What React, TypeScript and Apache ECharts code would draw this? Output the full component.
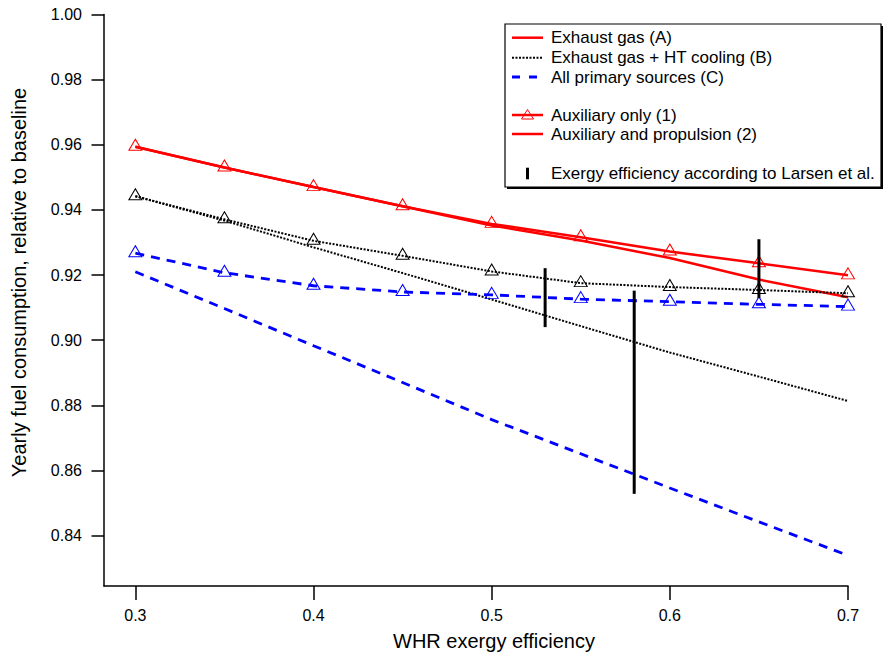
import React, { useEffect, useRef } from "react";
import * as echarts from "echarts";

// WHR exergy efficiency (x) at which every scenario was evaluated
const effValues = [0.3, 0.35, 0.4, 0.45, 0.5, 0.55, 0.6, 0.65, 0.7];

// Yearly fuel consumption relative to baseline
const exhaustAuxOnly = [0.9594, 0.953, 0.947, 0.9411, 0.9357, 0.9316, 0.9272, 0.9236, 0.9199];
const exhaustAuxProp = [0.9594, 0.953, 0.947, 0.9411, 0.9352, 0.9306, 0.9252, 0.9186, 0.9132];
const htAuxOnly = [0.9442, 0.9371, 0.9305, 0.9259, 0.9211, 0.9175, 0.9163, 0.9154, 0.9144];
const htAuxProp = [0.9442, 0.9367, 0.9285, 0.9206, 0.9125, 0.9043, 0.8962, 0.8888, 0.8813];
const allAuxOnly = [0.9267, 0.9207, 0.9167, 0.9148, 0.9139, 0.9126, 0.9118, 0.911, 0.9103];
const allAuxProp = [0.921, 0.9097, 0.8983, 0.887, 0.8756, 0.8651, 0.8546, 0.8442, 0.8339];

// Exergy efficiency ranges according to Larsen et al.
const larsenEff = [0.53, 0.58, 0.65];
const larsenLow = [0.904, 0.8528, 0.9129];
const larsenHigh = [0.9221, 0.9152, 0.931];

// Tick labels
const xTicks = [0.3, 0.4, 0.5, 0.6, 0.7];
const yTicks = [0.84, 0.86, 0.88, 0.9, 0.92, 0.94, 0.96, 0.98, 1.0];

// Legend entries
const legendLabels = [
  "Exhaust gas (A)",
  "Exhaust gas + HT cooling (B)",
  "All primary sources (C)",
  "Auxiliary only (1)",
  "Auxiliary and propulsion (2)",
  "Exergy efficiency according to Larsen et al.",
];

const RED = "#ff0000";
const BLACK = "#000000";
const BLUE = "#0000ff";
const FONT = "'Liberation Sans', Arial, Helvetica, sans-serif";

const pairs = (ys: number[]) => effValues.map((x, i) => [x, ys[i]]);

function lineSeries(
  name: string,
  ys: number[],
  color: string,
  width: number,
  type: any,
  markers: boolean
) {
  return {
    type: "line",
    name,
    data: pairs(ys),
    silent: true,
    symbol: markers ? "triangle" : "none",
    showSymbol: markers,
    symbolSize: [13, 11],
    symbolOffset: [0, -2],
    lineStyle: { color, width, type },
    itemStyle: { color: "rgba(0,0,0,0)", borderColor: color, borderWidth: 1 },
    z: 2,
  };
}

export default function App() {
  const ref = useRef<HTMLDivElement>(null);

  useEffect(() => {
    if (!ref.current) return;
    const chart = echarts.init(ref.current, undefined, { renderer: "svg" });

    const dotted = [2, 1.5];
    const dashed = [9, 7];

    const larsenSeries = larsenEff.map((x, i) => ({
      type: "line",
      name: "Larsen " + x,
      data: [
        [x, larsenLow[i]],
        [x, larsenHigh[i]],
      ],
      silent: true,
      symbol: "none",
      lineStyle: { color: BLACK, width: 3 },
      z: 3,
    }));

    // Legend drawn as graphics: box, sample strokes and labels
    const lx0 = 512;
    const lx1 = 543;
    const rowY = [37.7, 57.7, 77, 115, 134, 173.3];
    const boxW = 376;
    const legendGraphics: any[] = [
      { type: "rect", shape: { x: 507, y: 26, width: boxW, height: 163 }, style: { fill: "#000" }, z: 10 },
      {
        type: "rect",
        shape: { x: 505, y: 24, width: boxW, height: 163 },
        style: { fill: "#fff", stroke: "#000", lineWidth: 1.2 },
        z: 11,
      },
      { type: "line", shape: { x1: lx0, y1: rowY[0], x2: lx1, y2: rowY[0] }, style: { stroke: RED, lineWidth: 2.5 }, z: 12 },
      {
        type: "line",
        shape: { x1: lx0, y1: rowY[1], x2: lx1, y2: rowY[1] },
        style: { stroke: BLACK, lineWidth: 2, lineDash: dotted },
        z: 12,
      },
      {
        type: "line",
        shape: { x1: lx0, y1: rowY[2], x2: lx1, y2: rowY[2] },
        style: { stroke: BLUE, lineWidth: 2.8, lineDash: [8, 9] },
        z: 12,
      },
      { type: "line", shape: { x1: lx0, y1: rowY[3], x2: lx1, y2: rowY[3] }, style: { stroke: RED, lineWidth: 2.5 }, z: 12 },
      {
        type: "polygon",
        shape: { points: [[527.5, 109.5], [521.5, 119], [533.5, 119]] },
        style: { fill: "none", stroke: RED, lineWidth: 1 },
        z: 13,
      },
      { type: "line", shape: { x1: lx0, y1: rowY[4], x2: lx1, y2: rowY[4] }, style: { stroke: RED, lineWidth: 2.5 }, z: 12 },
      { type: "line", shape: { x1: 527.5, y1: 167.7, x2: 527.5, y2: 179.3 }, style: { stroke: BLACK, lineWidth: 3 }, z: 12 },
      ...legendLabels.map((t, i) => ({
        type: "text",
        x: 551,
        y: rowY[i],
        style: {
          text: t,
          fill: "#000",
          font: `17px ${FONT}`,
          textAlign: "left",
          textVerticalAlign: "middle",
        },
        z: 12,
      })),
    ];

    chart.setOption({
      animation: false,
      backgroundColor: "#ffffff",
      grid: { left: 104, right: 35, top: 14.5, bottom: 72, containLabel: false, outerBoundsMode: "none" },
      xAxis: {
        type: "value",
        min: 0.2824,
        max: 0.7,
        splitLine: { show: false },
        axisLine: { show: true, onZero: false, lineStyle: { color: "#000", width: 1.5 } },
        axisTick: { show: true, customValues: xTicks, length: 14, lineStyle: { color: "#000", width: 1.5 } },
        axisLabel: {
          customValues: xTicks,
          margin: 21,
          fontSize: 16,
          fontFamily: FONT,
          color: "#000",
          formatter: (v: number) => v.toFixed(1),
        },
      },
      yAxis: {
        type: "value",
        min: 0.8245,
        max: 1.0,
        splitLine: { show: false },
        axisLine: { show: true, onZero: false, lineStyle: { color: "#000", width: 1.5 } },
        axisTick: { show: true, customValues: yTicks, length: 12.5, lineStyle: { color: "#000", width: 1.5 } },
        axisLabel: {
          customValues: yTicks,
          margin: 22,
          fontSize: 16,
          fontFamily: FONT,
          color: "#000",
          formatter: (v: number) => v.toFixed(2),
        },
      },
      series: [
        lineSeries("Exhaust gas (A), auxiliary only", exhaustAuxOnly, RED, 2.5, "solid", true),
        lineSeries("Exhaust gas (A), auxiliary and propulsion", exhaustAuxProp, RED, 2.5, "solid", false),
        lineSeries("Exhaust gas + HT cooling (B), auxiliary only", htAuxOnly, BLACK, 2, dotted, true),
        lineSeries("Exhaust gas + HT cooling (B), auxiliary and propulsion", htAuxProp, BLACK, 2, dotted, false),
        lineSeries("All primary sources (C), auxiliary only", allAuxOnly, BLUE, 2.8, dashed, true),
        lineSeries("All primary sources (C), auxiliary and propulsion", allAuxProp, BLUE, 2.8, dashed, false),
        ...larsenSeries,
      ],
      graphic: [
        {
          type: "text",
          x: 494,
          y: 641,
          style: {
            text: "WHR exergy efficiency",
            fill: "#000",
            font: `20px ${FONT}`,
            textAlign: "center",
            textVerticalAlign: "middle",
          },
        },
        {
          type: "text",
          x: 18.5,
          y: 282.5,
          rotation: Math.PI / 2,
          style: {
            text: "Yearly fuel consumption, relative to baseline",
            fill: "#000",
            font: `20px ${FONT}`,
            textAlign: "center",
            textVerticalAlign: "middle",
          },
        },
        ...legendGraphics,
      ],
    });

    return () => chart.dispose();
  }, []);

  return (
    <div
      ref={ref}
      style={{ position: "fixed", left: 0, top: 0, width: 883, height: 658, background: "#fff" }}
    />
  );
}
